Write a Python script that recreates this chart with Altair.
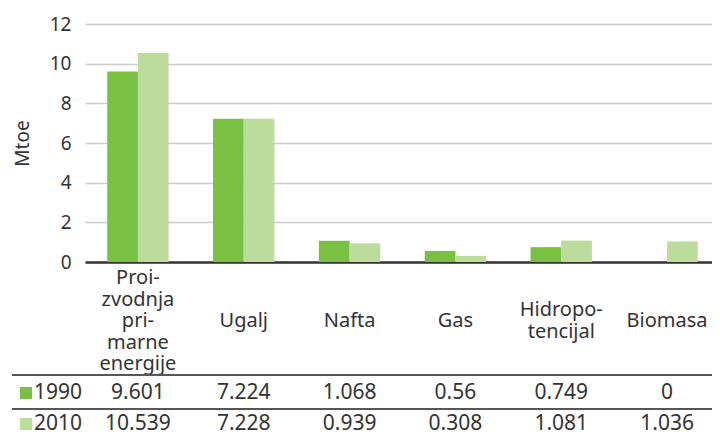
import altair as alt
import pandas as pd

categories = ["Proizvodnja primarne energije", "Ugalj", "Nafta", "Gas", "Hidropotencijal", "Biomasa"]
cat_labels = ["Proi-\nzvodnja\npri-\nmarne\nenergije", "Ugalj", "Nafta", "Gas", "Hidropo-\ntencijal", "Biomasa"]
years = ["1990", "2010"]
values_1990 = [9.601, 7.224, 1.068, 0.56, 0.749, 0]
values_2010 = [10.539, 7.228, 0.939, 0.308, 1.081, 1.036]
colors = ["#7AC143", "#BCDC9B"]
y_ticks = [0, 2, 4, 6, 8, 10, 12]

W, H = 627, 238
X_RANGE = 635
FONT = "Noto Sans"
TXT = "#333333"
LINE_H = 21.5
LABEL_MID = 297

rows = []
for c, v1, v2 in zip(categories, values_1990, values_2010):
    rows.append({"cat": c, "year": "1990", "value": v1, "txt": f"{v1:g}"})
    rows.append({"cat": c, "year": "2010", "value": v2, "txt": f"{v2:g}"})
df = pd.DataFrame(rows)
cat_df = pd.DataFrame({
    "cat": categories,
    "label": cat_labels,
    "ypos": [LABEL_MID - (l.count("\n")) * LINE_H / 2 for l in cat_labels],
})
d1990 = df[df.year == "1990"]
d2010 = df[df.year == "2010"]

xscale = alt.Scale(domain=categories, paddingInner=0.42, paddingOuter=0.21, range=[0, X_RANGE])
xenc = alt.X("cat:N", scale=xscale, sort=categories,
             axis=alt.Axis(labels=False, ticks=False, title=None, domain=True,
                           domainColor="#333333", domainWidth=2.5, grid=False))

bars = alt.Chart(df).mark_bar().encode(
    x=xenc,
    xOffset=alt.XOffset("year:N", scale=alt.Scale(domain=years, paddingInner=0, paddingOuter=0)),
    y=alt.Y("value:Q", scale=alt.Scale(domain=[0, 12], nice=False),
            axis=alt.Axis(values=y_ticks, title="Mtoe", domain=False, ticks=False,
                          labelPadding=14, gridColor="#cccccc", gridWidth=1.5,
                          labelFont=FONT, labelFontSize=19, labelColor=TXT,
                          titleFont=FONT, titleFontSize=19, titleColor=TXT,
                          titleFontWeight="normal", titlePadding=17)),
    color=alt.Color("year:N", scale=alt.Scale(domain=years, range=colors), legend=None),
)

cat_text = alt.Chart(cat_df).mark_text(
    font=FONT, fontSize=20, color=TXT, lineBreak="\n", lineHeight=LINE_H, baseline="middle"
).encode(x=alt.X("cat:N", scale=xscale, sort=categories),
         y=alt.Y("ypos:Q", scale=None, axis=None), text="label:N")

row1 = alt.Chart(d1990).mark_text(font=FONT, fontSize=21, color=TXT, baseline="middle").encode(
    x=alt.X("cat:N", scale=xscale, sort=categories), y=alt.value(369), text="txt:N")
row2 = alt.Chart(d2010).mark_text(font=FONT, fontSize=21, color=TXT, baseline="middle").encode(
    x=alt.X("cat:N", scale=xscale, sort=categories), y=alt.value(400), text="txt:N")

line1 = alt.Chart(cat_df).mark_rule(color="#555555", strokeWidth=1.2).encode(
    x=alt.value(-73), x2=alt.value(W), y=alt.value(351))
line2 = alt.Chart(cat_df).mark_rule(color="#555555", strokeWidth=1.2).encode(
    x=alt.value(-73), x2=alt.value(W), y=alt.value(385))

leg_df = pd.DataFrame({"year": years, "ypos": [369, 400]})
leg_sq = alt.Chart(leg_df).mark_square(size=144, opacity=1).encode(
    x=alt.value(-59), y=alt.Y("ypos:Q", scale=None, axis=None),
    color=alt.Color("year:N", scale=alt.Scale(domain=years, range=colors), legend=None))
leg_txt = alt.Chart(leg_df).mark_text(font=FONT, fontSize=21, color=TXT, align="left", baseline="middle").encode(
    x=alt.value(-51), y=alt.Y("ypos:Q", scale=None, axis=None), text="year:N")

chart = alt.layer(bars, cat_text, row1, row2, line1, line2, leg_sq, leg_txt).properties(
    width=W, height=H,
    padding={"left": 77, "top": 16, "right": 0, "bottom": 174},
    autosize=alt.AutoSizeParams(type="none"),
).configure_view(stroke=None)

chart.save("out.html", embed_options={"renderer": "svg", "actions": False})
